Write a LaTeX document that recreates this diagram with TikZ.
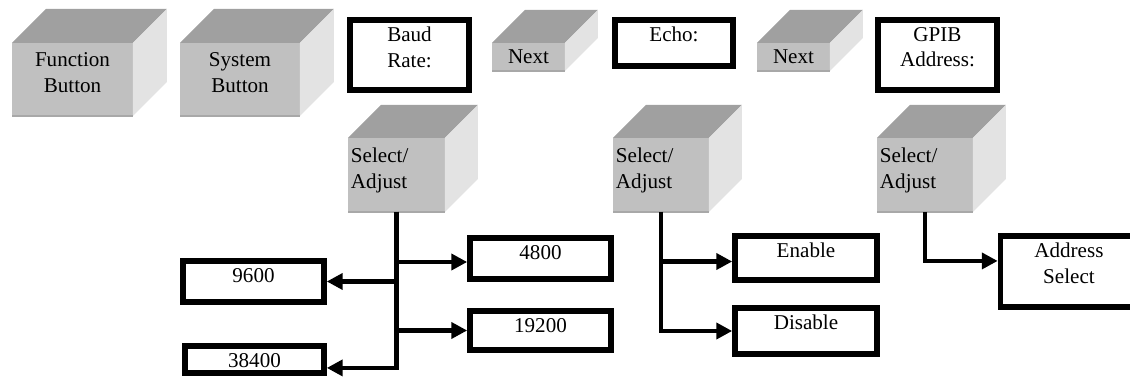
\documentclass[tikz,border=0pt]{standalone}
\usepackage{fontspec}
\setmainfont{Liberation Serif}
\usepackage{xcolor}
\usetikzlibrary{arrows.meta}

\definecolor{keyfront}{RGB}{192,192,192}
\definecolor{keytopc}{RGB}{160,160,160}
\definecolor{keysidec}{RGB}{227,227,227}
\definecolor{keyedgec}{RGB}{168,168,168}

% top and side faces of a key, drawn on its front node
\newcommand{\keyblock}[2]{%
    \fill[keytop] (#1.north west) -- ++(#2,-#2) -- ([shift={(#2,-#2)}]#1.north east) -- (#1.north east) -- cycle;
    \fill[keyside] (#1.north east) -- ++(#2,-#2) -- ([shift={(#2,-#2)}]#1.south east) -- (#1.south east) -- cycle;
    \draw[keyedge] (#1.south west) -- (#1.south east);
}

\begin{document}
\begin{tikzpicture}[x=0.02cm,y=-0.02cm,
    every node/.style={font=\fontsize{12}{14.5}\selectfont},
    keyface/.style={fill=keyfront,inner sep=0pt,outer sep=0pt,anchor=north west},
    keytop/.style={fill=keytopc},
    keyside/.style={fill=keysidec},
    keyedge/.style={draw=keyedgec,line width=0.8pt},
    valbox/.style={draw,line width=3.2pt,inner sep=0pt},
    toptext/.style={anchor=north,align=center,inner sep=0pt,yshift=-5.5pt},
    lefttext/.style={anchor=north west,align=left,inner sep=0pt,xshift=1.5pt,yshift=-5.5pt},
    link/.style={line width=2.6pt,-{Triangle[length=9pt,width=9pt]}}]
    \useasboundingbox (0,0) rectangle (1130,377);
    \clip (0,0) rectangle (1130,377);
    % Front panel keys
    \node[keyface,minimum width=2.42cm,minimum height=1.46cm,
        label={[toptext]north:{Function\\Button}}] (fbtn) at (12,43) {};
    \keyblock{fbtn}{34}
    \node[keyface,minimum width=2.40cm,minimum height=1.46cm,
        label={[toptext]north:{System\\Button}}] (sbtn) at (180,43) {};
    \keyblock{sbtn}{34}
    % Baud rate
    \node[valbox,minimum width=2.38cm,minimum height=1.40cm,
        label={[toptext]north:{Baud\\Rate:}}] (baud) at (409.5,55) {};
    \node[keyface,minimum width=1.46cm,minimum height=0.56cm] (nextA) at (492,43) {Next};
    \keyblock{nextA}{33}
    % Echo
    \node[valbox,minimum width=2.36cm,minimum height=0.92cm,
        label={[toptext]north:{Echo:}}] (echo) at (674,43) {};
    \node[keyface,minimum width=1.46cm,minimum height=0.56cm] (nextB) at (757,43) {Next};
    \keyblock{nextB}{33}
    % GPIB address
    \node[valbox,minimum width=2.38cm,minimum height=1.40cm,
        label={[toptext]north:{GPIB\\Address:}}] (gpib) at (937.5,55) {};
    % Select/Adjust keys
    \node[keyface,minimum width=1.94cm,minimum height=1.48cm,
        label={[lefttext]north west:{Select/\\Adjust}}] (selA) at (348,138) {};
    \keyblock{selA}{33}
    \node[keyface,minimum width=1.92cm,minimum height=1.48cm,
        label={[lefttext]north west:{Select/\\Adjust}}] (selB) at (613,138) {};
    \keyblock{selB}{33}
    \node[keyface,minimum width=1.92cm,minimum height=1.48cm,
        label={[lefttext]north west:{Select/\\Adjust}}] (selC) at (877,138) {};
    \keyblock{selC}{33}
    % Baud rate values
    \node[valbox,minimum width=2.82cm,minimum height=0.82cm,
        label={[toptext]north:9600}] (rateA) at (253.5,281.5) {};
    \node[valbox,minimum width=2.82cm,minimum height=0.82cm,
        label={[toptext]north:4800}] (rateB) at (540.5,258.5) {};
    \node[valbox,minimum width=2.82cm,minimum height=0.78cm,
        label={[toptext]north:19200}] (rateC) at (540.5,330.5) {};
    \node[valbox,minimum width=2.78cm,minimum height=0.54cm,
        label={[toptext]north:38400}] (rateD) at (254.5,359.5) {};
    % Echo values
    \node[valbox,minimum width=2.84cm,minimum height=0.88cm,
        label={[toptext]north:Enable}] (echoOn) at (806,258) {};
    \node[valbox,minimum width=2.84cm,minimum height=0.92cm,
        label={[toptext]north:Disable}] (echoOff) at (806,331) {};
    % Address value, runs off the right edge
    \node[valbox,minimum width=3.30cm,minimum height=1.42cm,
        label={[toptext,xshift=-8pt]north:{Address\\Select}}] (addr) at (1083,271.5) {};
    % Connectors
    \draw[link] (selA.south) |- ([yshift=-2pt]rateB.west);
    \draw[link] (selA.south) |- (rateA.east);
    \draw[link] (selA.south) |- (rateC.west);
    \draw[link] (selA.south) |- ([yshift=-4.8pt]rateD.east);
    \draw[link] (selB.south) |- ([yshift=-2pt]echoOn.west);
    \draw[link] (selB.south) |- (echoOff.west);
    \draw[link] (selC.south) |- ([yshift=6pt]addr.west);
\end{tikzpicture}
\end{document}
